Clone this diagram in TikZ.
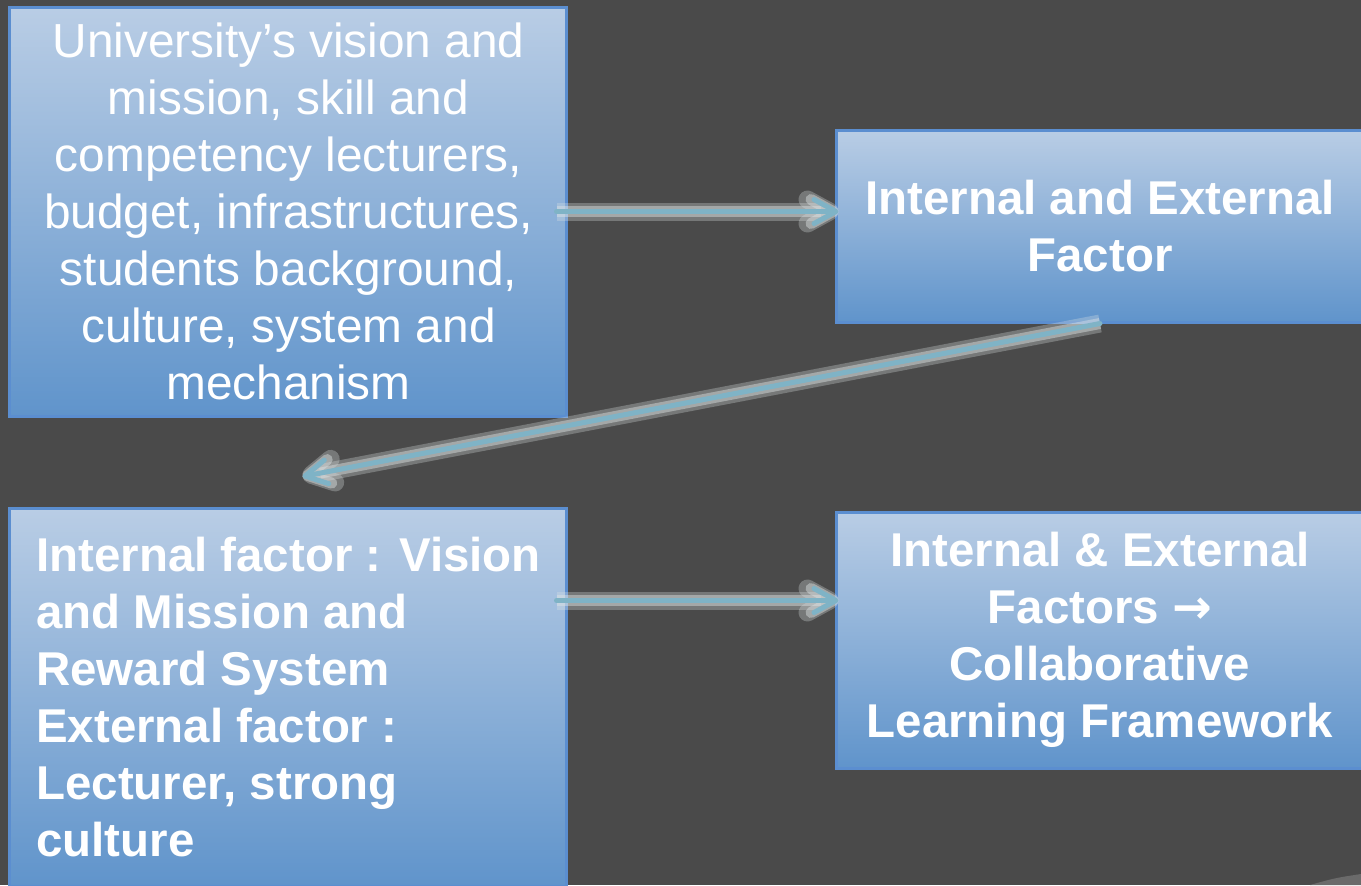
\documentclass[tikz,border=0pt]{standalone}
\usepackage{fontspec}
\setmainfont{Liberation Sans}
\newfontfamily\symfont{DejaVu Sans}
\usetikzlibrary{arrows.meta,calc}
\definecolor{sfondo}{HTML}{4A4A4A}
\definecolor{angolo}{HTML}{6A6A6A}
\definecolor{boxtop}{HTML}{B9CDE5}
\definecolor{boxbot}{HTML}{6094CB}
\definecolor{bordo}{HTML}{5B8ED0}
\definecolor{lineacol}{HTML}{7FB3C6}
\definecolor{alone}{HTML}{DDE3E4}
\tikzset{
>={Straight Barb[length=2.2mm,width=2.4mm,round]},
main box/.style={rectangle,draw=bordo,line width=0.3mm,top color=boxtop,bottom color=boxbot,
  text=white,inner sep=0pt,font=\fontsize{13.6}{16.2}\selectfont},
bold box/.style={main box,font=\fontsize{13.5}{16.2}\selectfont\bfseries},
freccia/.style={->,line width=0.5mm,draw=lineacol,line cap=round,line join=round,
  preaction={draw=alone,line width=1.8mm,opacity=0.3},
  preaction={draw=alone,line width=1.1mm,opacity=0.45}}}

\begin{document}
\begin{tikzpicture}

\fill[sfondo] (0,0) rectangle (13.61,-8.85);
\useasboundingbox (0,0) rectangle (13.61,-8.85);
\fill[angolo] (13.1,-8.85) .. controls (13.35,-8.78) .. (13.61,-8.74) -- (13.61,-8.85) -- cycle;

\node[main box,minimum width=5.57cm,minimum height=4.09cm,align=center] (1) at (2.885,-2.115)
  {University’s vision and\\ mission, skill and\\ competency lecturers,\\ budget, infrastructures,\\
   students background,\\ culture, system and\\ mechanism};
\node[bold box,minimum width=5.28cm,minimum height=1.92cm,align=center] (2) at (11.0,-2.26)
  {Internal and External\\ Factor};
\node[bold box,minimum width=5.57cm,minimum height=3.78cm,align=left] (3) at (2.885,-6.97)
  {Internal factor : Vision\\ and Mission and\\ Reward System\\ External factor :\\
   Lecturer, strong\\ culture};
\node[bold box,minimum width=5.28cm,minimum height=2.56cm,align=center] (4) at (11.0,-6.40)
  {Internal \& External\\ Factors {\symfont →}\\ Collaborative\\ Learning Framework};

\coordinate (3t) at ([xshift=0.14cm,yshift=0.30cm]3.north);
\coordinate (3a) at ([yshift=-0.94cm]3.north east);

\draw[freccia,shorten <=-1.2mm,shorten >=-0.4mm] (1.east) -- (1.east -| 2.west);
\draw[freccia] (2.south) -- (3t);
\draw[freccia,shorten <=-1.2mm,shorten >=-0.4mm] (3a) -- (3a -| 4.west);

\end{tikzpicture}
\end{document}
